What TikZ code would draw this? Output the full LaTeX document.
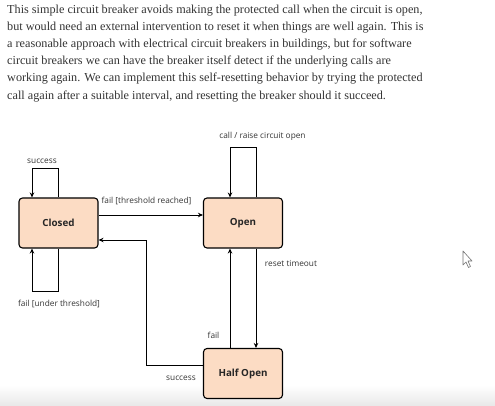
\documentclass[tikz,border=0pt]{standalone}
\usepackage{fontspec}
\setmainfont{Liberation Serif}
\newfontfamily\diagfont{Open Sans}
\usetikzlibrary{arrows.meta,calc}
\definecolor{boxfill}{HTML}{FCDCC4}
\definecolor{bodytext}{HTML}{333333}
\definecolor{labeltext}{HTML}{333333}
\begin{document}
\begin{tikzpicture}[x=1pt,y=-1pt,
  statebox/.style={draw=black,line width=1.1pt,rounded corners=3.5pt,fill=boxfill,
    minimum width=79pt,minimum height=50pt,inner sep=0pt,
    font=\diagfont\fontsize{9.8}{12}\selectfont\bfseries,text=black!85},
  arr/.style={draw=black,line width=0.9pt,-{Stealth[length=5pt,width=4.5pt]}},
  lbl/.style={font=\diagfont\fontsize{8.3}{10}\selectfont,text=labeltext,inner sep=0pt},
  bodyline/.style={anchor=west,inner sep=0pt,font=\fontsize{12.2}{14}\selectfont,text=bodytext}]
\useasboundingbox (0,0) rectangle (495,406);
\shade[top color=white,bottom color=black!9] (0,385) rectangle (495,406);
% body text
\node[bodyline] (l1) at (7,11) {This simple circuit breaker avoids making the protected call when the circuit is open,};
\node[bodyline] (l2) at (7,28) {but would need an external intervention to reset it when things are well again. This is};
\node[bodyline] (l3) at (7,45) {a reasonable approach with electrical circuit breakers in buildings, but for software};
\node[bodyline] (l4) at (7,62) {circuit breakers we can have the breaker itself detect if the underlying calls are};
\node[bodyline] (l5) at (7,79) {working again. We can implement this self-resetting behavior by trying the protected};
\node[bodyline] (l6) at (7,97) {call again after a suitable interval, and resetting the breaker should it succeed.};
% states
\node[statebox] (closed) at (58.5,223) {Closed};
\node[statebox] (open) at (243,223) {Open};
\node[statebox] (half) at (243,373.5) {Half Open};
% transitions
\draw[arr] (closed.north) -- ++(0,-29) -| ([xshift=-26.5pt]closed.north);
\draw[arr] (closed.south) -- ++(0,43) -| ([xshift=-26.5pt]closed.south);
\draw[arr] ([xshift=13pt]open.north) -- ++(0,-50) -| ([xshift=-13pt]open.north);
\draw[arr] ([yshift=8pt]closed.east) -- ([yshift=8pt]open.west);
\draw[arr] ([yshift=8.5pt]half.west) -- ++(-57,0) |- ([yshift=-17pt]closed.east);
\draw[arr] ([xshift=-13pt]half.north) -- ([xshift=-13pt]open.south);
\draw[arr] ([xshift=13pt]open.south) -- ([xshift=13pt]half.north);
% labels
\node[lbl] (t1) at (42,161) {success};
\node[lbl] (t2) at (262.5,136) {call / raise circuit open};
\node[lbl] (t3) at (146.5,201) {fail [threshold reached]};
\node[lbl] (t4) at (59,304) {fail [under threshold]};
\node[lbl] (t5) at (291,263) {reset timeout};
\node[lbl] (t6) at (213.5,335) {fail};
\node[lbl] (t7) at (181,378) {success};
% mouse cursor
\draw[black!55,fill=white,line width=0.6pt,line join=round]
  (463,251) -- (463,265) -- (466,262) -- (468.5,267.5) -- (470.5,266.5) -- (468,261) -- (472,261) -- cycle;
\end{tikzpicture}
\end{document}
